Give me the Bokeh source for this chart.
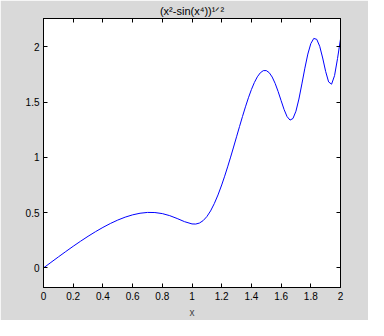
from bokeh.plotting import figure
from bokeh.models import Range1d, FixedTicker, LinearAxis
from bokeh.embed import file_html
from bokeh.resources import INLINE

# curve samples
xs = [0, 0.05, 0.1, 0.15, 0.2, 0.25, 0.3, 0.35, 0.4, 0.45, 0.5, 0.55, 0.6, 0.65,
      0.7, 0.75, 0.8, 0.85, 0.9, 0.95, 1.0, 1.025, 1.05, 1.075, 1.1, 1.125, 1.15,
      1.175, 1.2, 1.22, 1.24, 1.26, 1.28, 1.3, 1.32, 1.34, 1.36, 1.38, 1.4, 1.42,
      1.44, 1.46, 1.48, 1.5, 1.52, 1.54, 1.56, 1.58, 1.6, 1.62, 1.64, 1.66, 1.68,
      1.7, 1.72, 1.74, 1.76, 1.78, 1.8, 1.82, 1.84, 1.86, 1.88, 1.9, 1.92, 1.94,
      1.96, 1.98, 2.0]
ys = [0, 0.05, 0.0995, 0.1483, 0.1960, 0.2421, 0.2862, 0.3279, 0.3666, 0.4019,
      0.4331, 0.4595, 0.4804, 0.4949, 0.5022, 0.5013, 0.4917, 0.4732, 0.4472,
      0.4185, 0.3982, 0.3971, 0.4061, 0.4280, 0.4644, 0.5159, 0.5817, 0.6605,
      0.7508, 0.8301, 0.9144, 1.0028, 1.0940, 1.1867, 1.2794, 1.3704, 1.4579,
      1.5397, 1.6138, 1.6777, 1.7291, 1.7656, 1.7851, 1.7859, 1.7667, 1.7273,
      1.6693, 1.5961, 1.5142, 1.4340, 1.3696, 1.3377, 1.3523, 1.4183, 1.5282,
      1.6650, 1.8075, 1.9351, 2.0294, 2.0766, 2.0685, 2.0055, 1.8997, 1.7779,
      1.6831, 1.6625, 1.7402, 1.8943, 2.0707]

x_ticks = [0, 0.2, 0.4, 0.6, 0.8, 1, 1.2, 1.4, 1.6, 1.8, 2]
x_tick_labels = ["0", "0.2", "0.4", "0.6", "0.8", "1", "1.2", "1.4", "1.6", "1.8", "2"]
y_ticks = [0, 0.5, 1, 1.5, 2]
y_tick_labels = ["0", "0.5", "1", "1.5", "2"]
title_text = "(x²-sin(x⁴))¹ᐟ²"
x_label = "x"

FONT = "Liberation Sans"
BG = "#d9d9d9"

p = figure(width=368, height=320, output_backend="svg", toolbar_location=None,
           x_range=Range1d(0, 2), y_range=Range1d(-0.177, 2.257),
           min_border_left=43, min_border_right=28, min_border_top=18,
           min_border_bottom=31, background_fill_color="white",
           border_fill_color=BG, outline_line_color="black", outline_line_width=1,
           title=title_text)
p.grid.visible = False

p.title.align = "center"
p.title.text_font = FONT
p.title.text_font_size = "11px"
p.title.text_font_style = "normal"
p.title.text_color = "black"
p.title.standoff = 4

p.line(xs, ys, line_color="#0000ff", line_width=1)


def style_axis(ax, ticks, labels, show_labels=True):
    ax.ticker = FixedTicker(ticks=ticks)
    ax.major_label_overrides = {t: (l if show_labels else "") for t, l in zip(ticks, labels)}
    ax.major_tick_in = 4
    ax.major_tick_out = 0
    ax.minor_tick_line_color = None
    ax.axis_line_color = "black"
    ax.major_tick_line_color = "black"
    ax.major_label_text_font = FONT
    ax.major_label_text_font_size = "10px" if show_labels else "0px"
    ax.major_label_text_color = "black"
    ax.major_label_standoff = 4 if show_labels else 0


style_axis(p.xaxis[0], x_ticks, x_tick_labels)
style_axis(p.yaxis[0], y_ticks, y_tick_labels)
p.xaxis[0].axis_label = x_label
p.xaxis[0].axis_label_text_font = FONT
p.xaxis[0].axis_label_text_font_size = "10px"
p.xaxis[0].axis_label_text_font_style = "normal"
p.xaxis[0].axis_label_standoff = 4

top_ax = LinearAxis()
style_axis(top_ax, x_ticks, x_tick_labels, show_labels=False)
p.add_layout(top_ax, "above")
right_ax = LinearAxis()
style_axis(right_ax, y_ticks, y_tick_labels, show_labels=False)
p.add_layout(right_ax, "right")

open("out.html", "w").write(file_html(p, INLINE))
